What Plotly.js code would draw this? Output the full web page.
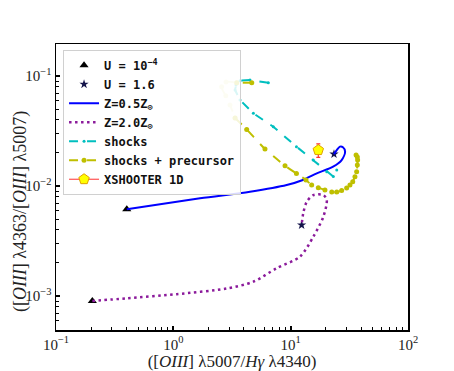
<!DOCTYPE html>
<html>
<head>
<meta charset="utf-8">
<script src="https://cdn.plot.ly/plotly-3.0.1.min.js"></script>
<style>
  html, body { margin: 0; padding: 0; background: #fff; }
  #chart { width: 454px; height: 371px; }
</style>
</head>
<body>
<div id="chart"></div>
<script>
// photoionisation track, Z = 0.5 Zsun (U from 1e-4 to 1.6)
const zLowX = [0.401, 1.69, 4.50, 9.25, 12.7, 16.7, 23.0, 27.2, 29.1, 27.9, 26.3, 24.7, 23.4];
const zLowY = [0.00614, 0.00773, 0.00887, 0.0102, 0.01134, 0.01303, 0.01497, 0.0172, 0.0205, 0.0225, 0.0228, 0.0212, 0.0195];

// photoionisation track, Z = 2.0 Zsun
const zHighX = [0.204, 0.401, 1.07, 2.85, 4.81, 7.61, 12.0, 15.6, 19.0, 20.3, 19.0, 15.6, 13.7, 12.8, 12.4];
const zHighY = [0.000901, 0.000953, 0.00104, 0.00117, 0.00135, 0.00179, 0.00228, 0.00346, 0.00526, 0.00746, 0.00828, 0.00828, 0.00719, 0.00565, 0.00442];

// shock-only grid
const shockX = [6.45, 4.50, 3.70, 3.42, 3.36, 3.70, 4.81, 7.11, 11.2, 15.6, 20.3, 23.1, 24.7];
const shockY = [0.0869, 0.0920, 0.0906, 0.0828, 0.0746, 0.0605, 0.0458, 0.0346, 0.0228, 0.0172, 0.0135, 0.0122, 0.0140];

// shock + precursor grid (top piece, faded piece, main piece)
const precTopX = [4.66, 3.47];
const precTopY = [0.0869, 0.0869];
const precFadeX = [3.47, 2.81, 2.58, 2.80, 3.04, 3.36];
const precFadeY = [0.0869, 0.0880, 0.0800, 0.0660, 0.0545, 0.0415];
const precX = [3.36, 4.22, 6.04, 8.95, 11.2, 13.5, 15.1, 17.2, 19.6, 22.4, 24.7, 27.2, 30.0, 32.0, 33.8, 35.3, 36.5, 37.0, 37.2, 37.0, 36.1];
const precY = [0.0415, 0.0327, 0.0217, 0.0153, 0.0130, 0.01134, 0.0102, 0.00966, 0.00920, 0.00881, 0.00881, 0.00908, 0.00959, 0.0102, 0.01094, 0.01216, 0.0135, 0.0155, 0.0172, 0.0184, 0.0191];

// XSHOOTER 1D measurement
const obsX = [17.2];
const obsY = [0.0212];
const obsErr = [0.003];

const xTickVals = [0.1, 1, 10, 100];
const xTickText = ["10<sup>−1</sup>", "10<sup>0</sup>", "10<sup>1</sup>", "10<sup>2</sup>"];
const yTickVals = [0.001, 0.01, 0.1];
const yTickText = ["10<sup>−3</sup>", "10<sup>−2</sup>", "10<sup>−1</sup>"];

const serif = "Liberation Serif, DejaVu Serif, serif";

const traces = [
  {
    x: [zLowX[0], zHighX[0]], y: [zLowY[0], zHighY[0]],
    name: "U = 10<sup>−4</sup>", mode: "markers", type: "scatter",
    marker: { symbol: "triangle-up", size: 8, color: "black" },
  },
  {
    x: [zLowX[zLowX.length - 1], zHighX[zHighX.length - 1]],
    y: [zLowY[zLowY.length - 1], zHighY[zHighY.length - 1]],
    name: "U = 1.6", mode: "markers", type: "scatter",
    marker: { symbol: "star", size: 7, color: "#14144a" },
  },
  {
    x: zLowX, y: zLowY, name: "Z=0.5Z<sub>⊙</sub>", mode: "lines", type: "scatter",
    line: { color: "#0000ff", width: 2, shape: "spline", smoothing: 0.8 },
  },
  {
    x: zHighX, y: zHighY, name: "Z=2.0Z<sub>⊙</sub>", mode: "lines", type: "scatter",
    line: { color: "#8b1a9b", width: 2.5, dash: "2.5px,3.5px", shape: "spline", smoothing: 0.8 },
  },
  {
    x: shockX, y: shockY, name: "shocks", mode: "lines+markers", type: "scatter",
    line: { color: "#00bfbf", width: 2, dash: "dash" },
    marker: { size: 3, color: "#00bfbf" },
  },
  {
    x: precFadeX, y: precFadeY, name: "shocks + precursor", mode: "lines+markers", type: "scatter",
    showlegend: false, opacity: 0.3,
    line: { color: "#bfbf00", width: 2, dash: "dash", shape: "spline" },
    marker: { size: 5, color: "#bfbf00" },
  },
  {
    x: precTopX, y: precTopY, name: "shocks + precursor", mode: "lines+markers", type: "scatter",
    showlegend: false,
    line: { color: "#bfbf00", width: 2, dash: "dash" },
    marker: { size: 5, color: "#bfbf00" },
  },
  {
    x: precX, y: precY, name: "shocks + precursor", mode: "lines+markers", type: "scatter",
    line: { color: "#bfbf00", width: 2, dash: "dash", shape: "spline", smoothing: 0.6 },
    marker: { size: 5, color: "#bfbf00" },
  },
  {
    x: obsX, y: obsY, name: "XSHOOTER 1D", mode: "lines+markers", type: "scatter",
    line: { color: "#ff3030", width: 1 },
    marker: { symbol: "pentagon", size: 11, color: "#ffff00", line: { color: "#e0a000", width: 1 } },
    error_y: { type: "data", array: obsErr, color: "#ff3030", thickness: 1.2, width: 2 },
  },
];

const layout = {
  width: 454,
  height: 371,
  margin: { l: 56, r: 46, t: 44, b: 41 },
  paper_bgcolor: "#ffffff",
  plot_bgcolor: "#ffffff",
  font: { family: serif, color: "#222" },
  xaxis: {
    type: "log",
    range: [-1, 2],
    tickmode: "array",
    tickvals: xTickVals,
    ticktext: xTickText,
    ticks: "inside", ticklen: 4, tickwidth: 2, tickcolor: "black",
    minor: { dtick: "D1", ticks: "inside", ticklen: 3, tickwidth: 1, tickcolor: "black", showgrid: false },
    showgrid: false, zeroline: false,
    showline: true, mirror: true, linecolor: "black", linewidth: 1.5,
    tickfont: { family: serif, size: 15, color: "#222" },
    title: { text: "([<i>OIII</i>] λ5007/<i>Hγ</i> λ4340)", font: { family: serif, size: 17, color: "#222" }, standoff: 3 },
    automargin: false,
  },
  yaxis: {
    type: "log",
    range: [-3.309, -0.709],
    tickmode: "array",
    tickvals: yTickVals,
    ticktext: yTickText,
    ticks: "inside", ticklen: 4, tickwidth: 2, tickcolor: "black",
    minor: { dtick: "D1", ticks: "inside", ticklen: 3, tickwidth: 1, tickcolor: "black", showgrid: false },
    showgrid: false, zeroline: false,
    showline: true, mirror: true, linecolor: "black", linewidth: 1.5,
    tickfont: { family: serif, size: 15, color: "#222" },
    automargin: false,
  },
  annotations: [{
    text: "([<i>OIII</i>] λ4363/[<i>OIII</i>] λ5007)",
    xref: "paper", yref: "paper", x: -0.1, y: 0.415,
    xanchor: "center", yanchor: "middle", textangle: -90, showarrow: false,
    font: { family: serif, size: 18, color: "#222" },
  }],
  showlegend: true,
  legend: {
    x: 0.02, y: 0.98, xanchor: "left", yanchor: "top",
    bgcolor: "rgba(255,255,255,0.85)",
    bordercolor: "#d0d0d0", borderwidth: 1,
    font: { family: "DejaVu Sans Mono, monospace", size: 12, color: "#111", weight: "bold" },
    tracegroupgap: 0,
  },
};

Plotly.newPlot("chart", traces, layout, { displayModeBar: false, staticPlot: true });
</script>
</body>
</html>
